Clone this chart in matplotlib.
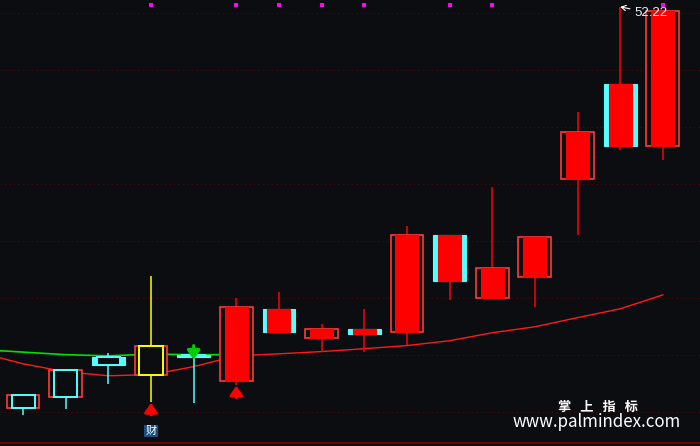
import matplotlib
matplotlib.use('Agg')
import matplotlib.pyplot as plt
import matplotlib.transforms as mtransforms
from matplotlib.patches import Rectangle

plt.rcParams['font.family'] = ['Noto Sans CJK SC', 'DejaVu Sans']

# dane swiecowe (cena)
opens  = [38.61, 39.48, 39.94, 40.33, 40.01, 39.10, 40.82, 40.61, 40.75, 40.82, 44.22, 42.01, 42.75, 46.19, 47.34, 47.34]
closes = [38.15, 38.54, 39.66, 39.31, 39.94, 41.69, 41.62, 40.92, 40.92, 44.22, 42.61, 43.06, 44.15, 47.83, 49.52, 52.08]
highs  = [38.64, 39.52, 40.08, 42.78, 40.33, 42.01, 42.22, 41.10, 41.62, 44.54, 44.22, 45.90, 44.15, 48.54, 52.22, 52.08]
lows   = [37.90, 38.11, 38.99, 38.36, 38.33, 38.96, 40.78, 40.12, 40.12, 40.36, 41.94, 42.01, 41.69, 44.22, 47.20, 46.85]
# rodzaj ramki zewnetrznej: 'box' = czerwona ramka, 'fill' = cyjan
outer_kind = ['box', 'box', 'fill', 'box', 'fill', 'box', 'fill', 'box', 'fill', 'box', 'fill', 'box', 'box', 'box', 'fill', 'box']
# kolor korpusu wewnetrznego
inner_kind = ['cyan', 'cyan', 'cyan', 'yellow', 'cyan', 'red', 'red', 'red', 'red', 'red', 'red', 'red', 'red', 'red', 'red', 'red']

# srednie
ma_red_x = [-0.54, 0, 1, 2, 3, 4, 5, 6, 7, 8, 9, 10, 11, 12, 13, 14, 15]
ma_red   = [39.90, 39.69, 39.41, 39.27, 39.31, 39.59, 39.97, 40.04, 40.12, 40.22, 40.33, 40.50, 40.78, 40.99, 41.31, 41.62, 42.11]
ma_green_x = [-0.54, 0, 1, 2, 3, 4, 5]
ma_green   = [40.15, 40.10, 40.01, 39.97, 40.03, 40.01, 40.01]

buy_idx = [3, 5]
sell_idx = [4]
mark_idx = [3, 5, 6, 7, 8, 10, 11, 15]
cai_idx = 3
grid_levels = [38, 40, 42, 44, 46, 48, 50, 52]
max_label = '52.22'

BG = '#0c0d10'
RED = '#ff0000'
RED_BOX = '#ff3a3a'
CYAN = '#55ffff'
YEL = '#ffff00'
cmap = {'cyan': CYAN, 'yellow': YEL, 'red': RED}

fig = plt.figure(figsize=(7, 4.46), dpi=100, facecolor=BG)
ax = fig.add_axes([0, 3 / 446, 1, 443 / 446])
ax.set_facecolor(BG)
ax.set_xlim(-0.54, 15.87)
ax.set_ylim(36.91, 52.46)
ax.set_xticks([])
ax.set_yticks([])
for s in ['top', 'left', 'right']:
    ax.spines[s].set_visible(False)
ax.spines['bottom'].set_color('#800000')
ax.spines['bottom'].set_linewidth(1.2)

for g in grid_levels:
    ax.axhline(g, color='#420909', lw=0.8, ls=(0, (1.5, 2.5)), zorder=0)

ax.plot(ma_green_x, ma_green, color='#00e000', lw=1.2, zorder=1)
ax.plot(ma_red_x, ma_red, color='#ff1a1a', lw=1.0, zorder=1)

w_out = 0.77
w_in = 0.54
for i in range(len(opens)):
    o, c, h, l = opens[i], closes[i], highs[i], lows[i]
    top, bot = max(o, c), min(o, c)
    col = cmap[inner_kind[i]]
    ax.plot([i, i], [l, h], color=col, lw=1.1, zorder=2, solid_capstyle='butt')
    if outer_kind[i] == 'box':
        ax.add_patch(Rectangle((i - w_out / 2, bot), w_out, top - bot, facecolor=BG,
                               edgecolor=RED_BOX, lw=1.2, zorder=3))
    else:
        ax.add_patch(Rectangle((i - w_out / 2, bot), w_out, top - bot, facecolor=CYAN,
                               edgecolor=CYAN, lw=0.8, zorder=3))
    if inner_kind[i] == 'red':
        ax.add_patch(Rectangle((i - w_in / 2, bot), w_in, top - bot, facecolor=RED,
                               edgecolor=RED, lw=0.8, zorder=4))
    else:
        ax.add_patch(Rectangle((i - w_in / 2, bot), w_in, top - bot, facecolor=BG,
                               edgecolor=col, lw=1.4, zorder=4))

# strzalki kupna / sprzedazy
astyle = '-|>,head_width=0.38,head_length=0.55'
for i in buy_idx:
    ax.annotate('', xy=(i, lows[i] - 0.04), xytext=(i, lows[i] - 0.46),
                arrowprops=dict(arrowstyle=astyle, color=RED,
                                lw=2.2, shrinkA=0, shrinkB=0), zorder=5)
for i in sell_idx:
    ax.annotate('', xy=(i, highs[i] - 0.5), xytext=(i, highs[i]),
                arrowprops=dict(arrowstyle=astyle, color='#00cc00',
                                lw=2.2, shrinkA=0, shrinkB=0), zorder=5)

# znaczniki na gorze
trans = mtransforms.blended_transform_factory(ax.transData, ax.transAxes)
ax.scatter(mark_idx, [0.989] * len(mark_idx), marker='s', s=9, color='#ff00ff',
           transform=trans, zorder=6, linewidths=0)

# etykieta maksimum
imax = highs.index(max(highs))
ax.annotate(max_label, xy=(imax, highs[imax]), xytext=(10, -4.5), textcoords='offset points',
            color='#e8f0f8', fontsize=9.5, family=['Liberation Sans', 'DejaVu Sans'],
            va='center', ha='left',
            arrowprops=dict(arrowstyle='->,head_width=0.2,head_length=0.35', color='white',
                            lw=0.8, shrinkA=1, shrinkB=0), zorder=6)

ax.text(cai_idx, 0.016, '财', transform=trans, ha='center', va='bottom', color='white',
        fontsize=8, bbox=dict(boxstyle='square,pad=0.1', facecolor='#1c4f80', edgecolor='none'),
        zorder=6)

fig.text(0.855, 1 - 407 / 446, '掌   上   指   标', color='white', fontsize=9.5, fontweight='bold',
         ha='center', va='center')
fig.text(0.853, 1 - 422 / 446, 'www.palmindex.com', color='white', fontsize=12.2,
         ha='center', va='center')

fig.savefig('out.png', dpi=100, facecolor=BG)
